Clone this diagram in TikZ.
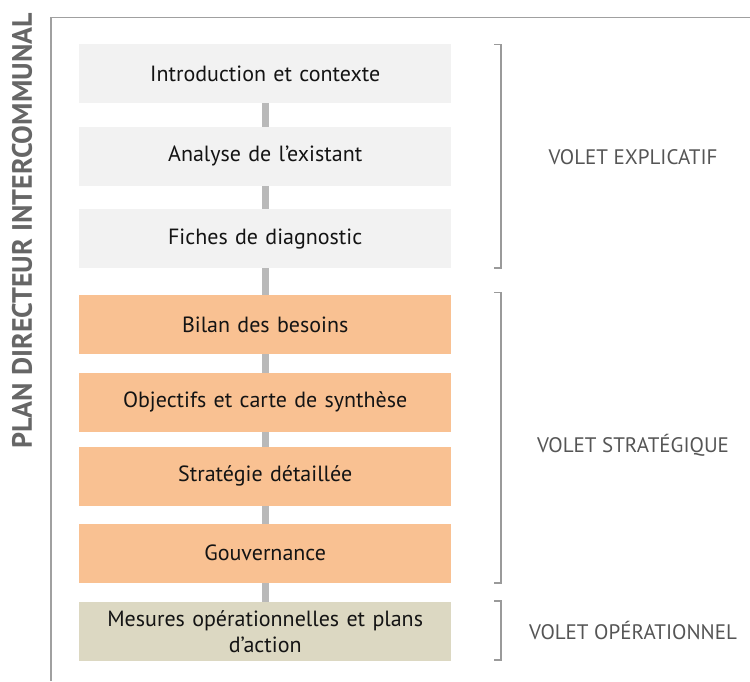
\documentclass[tikz,border=0pt]{standalone}
\usepackage{fontspec}
\setmainfont{PT Sans}
\begin{document}
\begin{tikzpicture}[x=1pt,y=-1pt,
  stepbox/.style={draw=none,minimum width=372pt,minimum height=59pt,anchor=north west,inner sep=0pt,font=\fontsize{22}{26}\selectfont,text=black!92,align=center,text width=366pt},
  grayb/.style={stepbox,fill=boxgray},
  orangeb/.style={stepbox,fill=boxorange},
  beigeb/.style={stepbox,fill=boxbeige},
  link/.style={draw=linkgray,line width=7pt},
  brack/.style={draw=brackgray,line width=1.2pt},
  volet/.style={font=\fontsize{21}{24}\selectfont,text=textgray}]
\definecolor{boxgray}{HTML}{F2F2F2}
\definecolor{boxorange}{HTML}{F9C192}
\definecolor{boxbeige}{HTML}{DCD8C2}
\definecolor{linkgray}{HTML}{B9B9B9}
\definecolor{brackgray}{HTML}{9A9A9A}
\definecolor{textgray}{HTML}{555555}
\definecolor{framegray}{HTML}{A0A0A0}
\useasboundingbox (0,0) rectangle (750,681);
% frame
\draw[framegray,line width=1.5pt] (51,681) -- (51,17.5) -- (750,17.5);
% title
\node[rotate=90,font=\bfseries\fontsize{28}{30}\selectfont,text=textgray!90!white] (title) at (22,231) {PLAN DIRECTEUR INTERCOMMUNAL};
% boxes
\node[grayb] (b1) at (79,44) {Introduction et contexte};
\node[grayb] (b2) at (79,126.5) {Analyse de l’existant};
\node[grayb] (b3) at (79,209) {Fiches de diagnostic};
\node[orangeb] (b4) at (79,295) {Bilan des besoins};
\node[orangeb] (b5) at (79,372.5) {Objectifs et carte de synthèse};
\node[orangeb] (b6) at (79,446.5) {Stratégie détaillée};
\node[orangeb] (b7) at (79,523.5) {Gouvernance};
\node[beigeb,font=\fontsize{22}{26}\selectfont] (b8) at (79,602) {Mesures opérationnelles et plans\\d’action};
% links
\foreach \a/\b in {b1/b2,b2/b3,b3/b4,b4/b5,b5/b6,b6/b7,b7/b8}{
  \draw[link] ([xshift=0.5pt]\a.south) -- ([xshift=0.5pt]\b.north);
}
% brackets
\coordinate (e1) at (494,44.5); \coordinate (e2) at (501,44.5);
\coordinate (e3) at (501,268); \coordinate (e4) at (494,268);
\draw[brack] (e1) -- (e2) -- (e3) -- (e4);
\coordinate (s1) at (494,292.5); \coordinate (s2) at (501,292.5);
\coordinate (s3) at (501,583); \coordinate (s4) at (494,583);
\draw[brack] (s1) -- (s2) -- (s3) -- (s4);
\coordinate (o1) at (494,601); \coordinate (o2) at (501,601);
\coordinate (o3) at (501,660); \coordinate (o4) at (494,660);
\draw[brack] (o1) -- (o2) -- (o3) -- (o4);
% labels
\node[volet] (v1) at (633,157) {VOLET EXPLICATIF};
\node[volet] (v2) at (633,445) {VOLET STRATÉGIQUE};
\node[volet] (v3) at (633,630) {VOLET OPÉRATIONNEL};
\end{tikzpicture}
\end{document}
